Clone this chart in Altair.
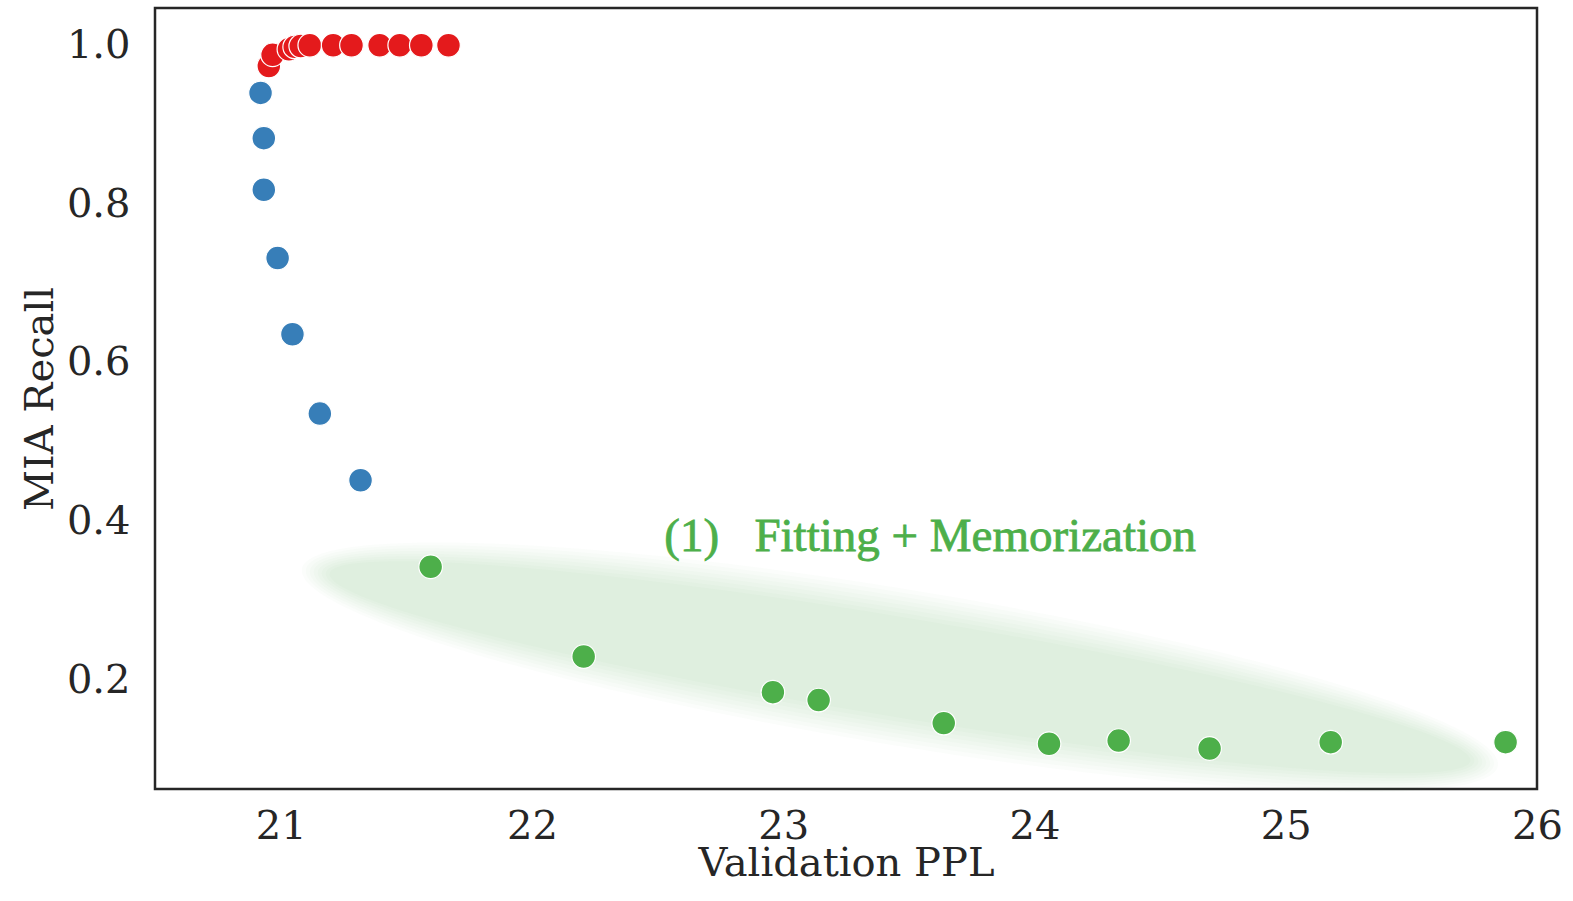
import altair as alt
import pandas as pd

# ---- data ----
red_ppl = [20.953, 20.968, 21.033, 21.056, 21.080, 21.116, 21.209, 21.282, 21.394, 21.474, 21.560, 21.668]
red_recall = [0.974, 0.988, 0.995, 0.998, 0.999, 1.0, 1.0, 1.0, 1.0, 1.0, 1.0, 1.0]

blue_ppl = [20.920, 20.933, 20.933, 20.988, 21.047, 21.156, 21.318]
blue_recall = [0.940, 0.883, 0.818, 0.732, 0.636, 0.536, 0.452]

green_ppl = [21.597, 22.206, 22.959, 23.141, 23.639, 24.058, 24.335, 24.697, 25.179, 25.875]
green_recall = [0.343, 0.230, 0.185, 0.175, 0.146, 0.120, 0.124, 0.114, 0.122, 0.122]

group_names = ["red", "blue", "green"]
group_colors = ["#e41a1c", "#377eb8", "#4daf4a"]

x_ticks = [21, 22, 23, 24, 25, 26]
y_ticks = [0.2, 0.4, 0.6, 0.8, 1.0]

ellipse_ppl = [23.465]
ellipse_recall = [0.2164]

note_ppl = [22.527]
note_recall = [0.3625]
note_text = ["(1)\u00a0\u00a0\u00a0Fitting + Memorization"]

# ---- tables ----
points = pd.DataFrame({
    "ppl": red_ppl + blue_ppl + green_ppl,
    "recall": red_recall + blue_recall + green_recall,
    "group": ["red"] * len(red_ppl) + ["blue"] * len(blue_ppl) + ["green"] * len(green_ppl),
})
ell_df = pd.DataFrame({"ppl": ellipse_ppl, "recall": ellipse_recall})
note_df = pd.DataFrame({"ppl": note_ppl, "recall": note_recall, "text": note_text})

xscale = alt.Scale(domain=[20.5, 26.0], nice=False, zero=False)
yscale = alt.Scale(domain=[0.063, 1.047], nice=False, zero=False)

TXT = "#262626"

x_axis = alt.Axis(title="Validation PPL", values=x_ticks, format="d",
                  titleY=86, titleBaseline="alphabetic")
y_axis = alt.Axis(title="MIA Recall", values=y_ticks, format=".1f",
                  titleX=-103, titleBaseline="alphabetic", titleAlign="center")

X = alt.X("ppl:Q", scale=xscale, axis=x_axis)
Y = alt.Y("recall:Q", scale=yscale, axis=y_axis)

# ---- soft ellipse (several nested translucent layers) ----
def ellipse_path(k):
    c = 0.5523
    return (f"M -1 0 C -1 {-c*k:.4f} {-c:.4f} {-k:.4f} 0 {-k:.4f} "
            f"C {c:.4f} {-k:.4f} 1 {-c*k:.4f} 1 0 "
            f"C 1 {c*k:.4f} {c:.4f} {k:.4f} 0 {k:.4f} "
            f"C {-c:.4f} {k:.4f} -1 {c*k:.4f} -1 0 Z")

A_SEMI, B_SEMI = 592.0, 64.0
offsets = [-14, -10, -6, -2, 2, 6, 10, 14]
layers = []
for d in offsets:
    a = A_SEMI + d
    b = B_SEMI + d
    layers.append(
        alt.Chart(ell_df).mark_point(
            shape=ellipse_path(b / a), filled=True, fill="#4daf4a",
            fillOpacity=0.024, strokeWidth=0, size=(2 * a) ** 2, angle=9.33,
        ).encode(x=X, y=Y)
    )

pts = alt.Chart(points).mark_circle(
    size=560, opacity=1, stroke="white", strokeWidth=1.2
).encode(
    x=X, y=Y,
    color=alt.Color("group:N", scale=alt.Scale(domain=group_names, range=group_colors), legend=None),
)

note = alt.Chart(note_df).mark_text(
    align="left", baseline="alphabetic", font="Liberation Serif",
    fontSize=47, color="#4daf4a", stroke="#4daf4a", strokeWidth=0.8,
).encode(x=X, y=Y, text="text:N")

chart = alt.layer(*layers, pts, note).properties(
    width=1382, height=781,
    autosize=alt.AutoSizeParams(type="none"),
    padding={"left": 155, "top": 8, "right": 36, "bottom": 112},
    background="white",
).configure_view(
    stroke=TXT, strokeWidth=2.5,
).configure_axis(
    grid=False, domain=False, ticks=False, tickSize=0,
    labelFont="DejaVu Serif", labelFontSize=40, labelColor=TXT,
    titleFont="DejaVu Serif", titleFontSize=40, titleColor=TXT,
    titleFontWeight="normal", labelFlush=False, labelOverlap=False,
).configure_axisX(
    labelPadding=17,
).configure_axisY(
    labelPadding=25,
)

chart.save("out.html", embed_options={"renderer": "svg", "actions": False})
